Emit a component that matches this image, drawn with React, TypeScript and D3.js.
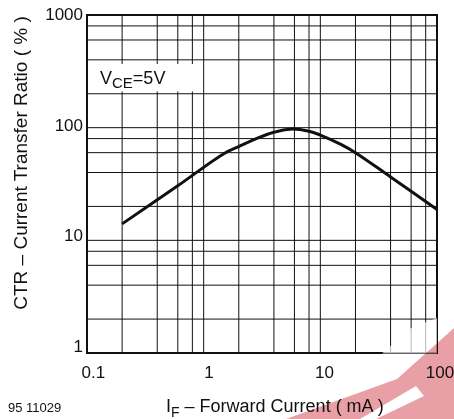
import React from "react";
import * as d3 from "d3";

const forwardCurrent = [0.2, 0.6, 1.5, 2, 3, 4, 5.5, 8, 10, 15, 20, 40, 100];
const ctrValues = [14, 30.5, 59, 68, 82, 91, 97, 93, 86, 71, 60, 36.5, 18.8];
const xTickLabels = ["0.1", "1", "10", "100"];
const yTickLabels = ["1", "10", "100", "1000"];
const gridMultipliers = [2, 4, 6, 8];
const xDecades = [0.1, 1, 10];
const yDecades = [1, 10, 100];

const W = 454;
const H = 419;
const L = 87, R = 437, T = 15, B = 353;
const FONT = "'Liberation Sans', Arial, Helvetica, sans-serif";

export default function App() {
  const x = d3.scaleLog().domain([0.1, 100]).range([L, R]);
  const y = d3.scaleLog().domain([1, 1000]).range([B, T]);
  const xLab = d3.scaleLog().domain([0.1, 100]).range([93.3, 440]);
  const yLab = d3.scaleLog().domain([1, 1000]).range([351.7, 20]);

  const xGrid: number[] = [];
  xDecades.forEach((d) => gridMultipliers.forEach((m) => xGrid.push(d * m)));
  xGrid.push(1, 10);
  const yGrid: number[] = [];
  yDecades.forEach((d) => gridMultipliers.forEach((m) => yGrid.push(d * m)));
  yGrid.push(10, 100);

  const line = d3
    .line<number>()
    .x((_, i) => x(forwardCurrent[i]))
    .y((v) => y(v))
    .curve(d3.curveCatmullRom.alpha(0.5));

  return (
    <svg
      width={W}
      height={H}
      style={{ position: "fixed", left: 0, top: 0, background: "#fff" }}
      fontFamily={FONT}
    >
      <rect x={0} y={0} width={W} height={H} fill="#fff" />
      {xGrid.map((v, i) => (
        <line key={"xg" + i} x1={x(v)} x2={x(v)} y1={T} y2={B} stroke="#111" strokeWidth={1} />
      ))}
      {yGrid.map((v, i) => (
        <line key={"yg" + i} x1={L} x2={R} y1={y(v)} y2={y(v)} stroke="#111" strokeWidth={1} />
      ))}
      {/* label box */}
      <rect x={89} y={64} width={108} height={27.5} fill="#fff" />
      <text x={100} y={83.5} fontSize={18} fill="#111">
        V
        <tspan fontSize={15} dy={4}>CE</tspan>
        <tspan dy={-4}>=5V</tspan>
      </text>
      <path d={line(ctrValues) || ""} fill="none" stroke="#111" strokeWidth={3} strokeLinejoin="round" />
      <rect x={L} y={T} width={R - L} height={B - T} fill="none" stroke="#111" strokeWidth={2} />

      {/* watermark */}
      <polygon points="382,353.5 411,328 437,318 437,353.5" fill="#fff" opacity={0.7} />
      <polygon
        points="286,419 397,379 454,328 454,419"
        fill="#e8a0a6"
        style={{ mixBlendMode: "multiply" }}
      />
      <polygon points="360,419 416,386 424,396 376,419" fill="#fff" />

      {yTickLabels.map((t) => (
        <text key={"yt" + t} x={83} y={yLab(+t)} fontSize={17} textAnchor="end" fill="#111">
          {t}
        </text>
      ))}
      {xTickLabels.map((t) => (
        <text key={"xt" + t} x={xLab(+t)} y={378.3} fontSize={17} textAnchor="middle" fill="#111">
          {t}
        </text>
      ))}

      <text transform="translate(26.5,163) rotate(-90)" fontSize={19} textAnchor="middle" fill="#111">
        CTR – Current Transfer Ratio ( % )
      </text>
      <text x={166} y={411.5} fontSize={18} fill="#111">
        I
        <tspan fontSize={14} dy={5}>F</tspan>
        <tspan dy={-5}> – Forward Current ( mA )</tspan>
      </text>
      <text x={8} y={411.5} fontSize={13} fill="#111">
        95 11029
      </text>
    </svg>
  );
}
